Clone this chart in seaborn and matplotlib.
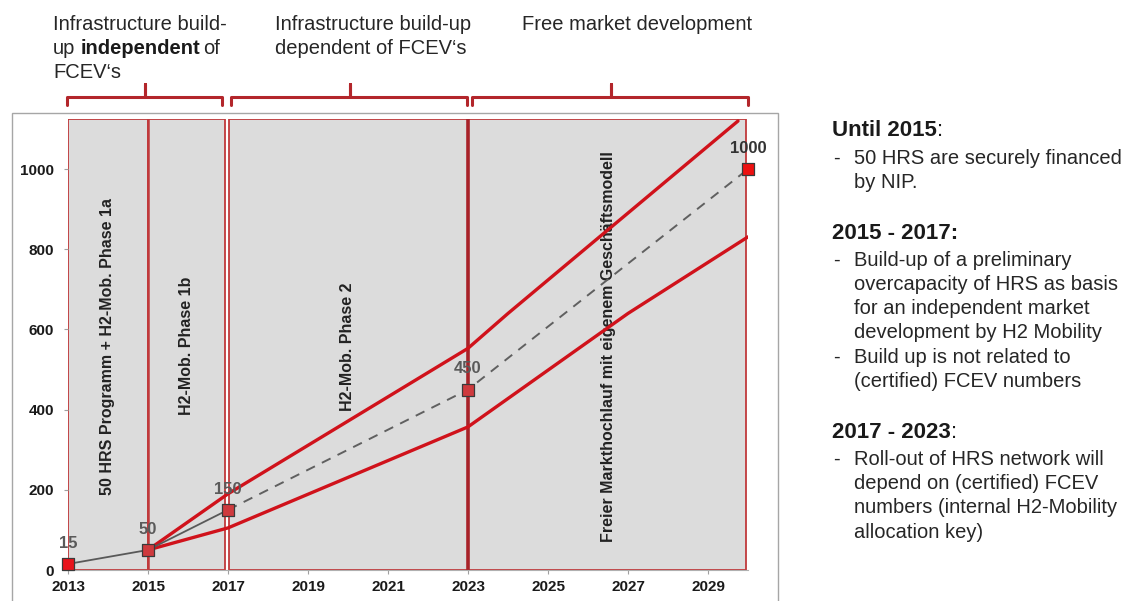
import matplotlib.pyplot as plt
import seaborn as sns
from matplotlib.patches import Rectangle
from matplotlib.lines import Line2D

# HRS milestones (number of stations)
milestone_years = [2013, 2015, 2017, 2023, 2030]
milestone_hrs = [15, 50, 150, 450, 1000]

# realised build-up (solid) and planned path (dashed)
actual_years = [2013, 2015, 2017]
actual_hrs = [15, 50, 150]
plan_years = [2017, 2023, 2030]
plan_hrs = [150, 450, 1000]

# corridor around the plan
upper_years = [2015, 2017, 2023, 2024, 2029.75]
upper_hrs = [50, 190, 553, 640, 1120]
lower_years = [2015, 2017, 2023, 2027, 2030]
lower_hrs = [50, 105, 357, 640, 831]

# phases (shaded boxes)
phase_start = [2013, 2015, 2017.03, 2023]
phase_end = [2015, 2016.93, 2023, 2029.95]
phase_labels = ['50 HRS Programm + H2-Mob. Phase 1a', 'H2-Mob. Phase 1b',
                'H2-Mob. Phase 2', 'Freier Markthochlauf mit eigenem Geschäftsmodell']

x_ticks = list(range(2013, 2030, 2))
y_ticks = [0, 200, 400, 600, 800, 1000]

# side notes
note_heads = ['Until 2015', '2015 - 2017:', '2017 - 2023']
note_items = [
    [['50 HRS are securely financed', 'by NIP.']],
    [['Build-up of a preliminary', 'overcapacity of HRS as basis',
      'for an independent market', 'development by H2 Mobility'],
     ['Build up is not related to', '(certified) FCEV numbers']],
    [['Roll-out of HRS network will', 'depend on (certified) FCEV',
      'numbers (internal H2-Mobility', 'allocation key)']],
]

sns.set_theme(style='white')
plt.rcParams['font.family'] = ['Liberation Sans', 'DejaVu Sans']

W, H = 1123, 601
fig = plt.figure(figsize=(W / 100, H / 100), dpi=100)
ax = fig.add_axes([68 / W, 1 - 570 / H, 680 / W, 451 / H])

RED = '#d0121b'
BOX_RED = '#c0393b'
DARK_RED = '#b3262b'

# phase boxes
for x0, x1 in zip(phase_start, phase_end):
    ax.axvspan(x0, x1, facecolor='#dcdcdc', edgecolor=BOX_RED, lw=1.3, zorder=0)
ax.axvline(2015, color=BOX_RED, lw=1.8, zorder=1)
ax.axvline(2023, color='#a82228', lw=2.6, zorder=1)

label_x = [(a + b) / 2 for a, b in zip(phase_start, phase_end)]
label_x[2] = 2020.0
label_x[3] = 2026.5
for x, lab in zip(label_x, phase_labels):
    ax.text(x, 558, lab, rotation=90, ha='center', va='center',
            fontsize=11.5, fontweight='bold', color='#222222', zorder=2)

# lines
sns.lineplot(x=upper_years, y=upper_hrs, ax=ax, color=RED, lw=2.4, zorder=3)
sns.lineplot(x=lower_years, y=lower_hrs, ax=ax, color=RED, lw=2.4, zorder=3)
sns.lineplot(x=actual_years, y=actual_hrs, ax=ax, color='#595959', lw=1.3, zorder=4)
sns.lineplot(x=plan_years, y=plan_hrs, ax=ax, color='#606060', lw=1.4,
             linestyle=(0, (5, 4)), zorder=4)

sns.scatterplot(x=milestone_years, y=milestone_hrs, ax=ax, marker='s', s=75,
                color='#e8131b', edgecolor='#3a3a3a', linewidth=0.9,
                clip_on=False, zorder=5)
ax.collections[-1].set_facecolor(['#e8131b', '#cf3a3e', '#cf3a3e', '#cf3a3e', '#ee1010'])

for i, (x, y) in enumerate(zip(milestone_years, milestone_hrs)):
    ax.annotate(str(y), (x, y), xytext=(0, 15), textcoords='offset points',
                ha='center', va='center', fontsize=12, fontweight='bold',
                color='#333333' if i == 4 else '#5a5a5a', zorder=6)

ax.set_xlim(2013, 2030)
ax.set_ylim(0, 1125)
ax.set_xticks(x_ticks)
ax.set_yticks(y_ticks)
ax.tick_params(axis='both', length=3, width=0.8, color='#a0a0a0',
               labelsize=11, labelcolor='#1a1a1a')
ax.tick_params(axis='x', pad=4)
ax.tick_params(axis='y', pad=7)
ax.xaxis.set_ticks_position('bottom')
ax.yaxis.set_ticks_position('left')
for lab in ax.get_xticklabels() + ax.get_yticklabels():
    lab.set_fontweight('bold')
for side in ['top', 'right', 'left']:
    ax.spines[side].set_visible(False)
ax.spines['bottom'].set_color('#b0b0b0')
ax.spines['bottom'].set_linewidth(0.8)
ax.set_xlabel('')
ax.set_ylabel('')
ax.grid(False)

# outer chart frame
fig.add_artist(Rectangle((12 / W, -0.1), 766 / W, 1 - 113 / H + 0.1,
                         transform=fig.transFigure, fill=False,
                         edgecolor='#a6a6a6', lw=1.0))

# brackets above the phases
trans = ax.get_xaxis_transform()
for x0, xm, x1 in [(2012.98, 2014.93, 2016.85), (2017.08, 2020.05, 2022.98),
                   (2023.1, 2026.58, 2030.0)]:
    ax.add_line(Line2D([x0, x0, xm, xm, xm, x1, x1],
                       [1.031, 1.049, 1.049, 1.078, 1.049, 1.049, 1.031],
                       transform=trans, color=DARK_RED, lw=2.2,
                       solid_joinstyle='round', solid_capstyle='round',
                       clip_on=False))

# headers
hkw = dict(fontsize=14.5, color='#262626', va='center', ha='left')
fig.text(53 / W, 1 - 25 / H, 'Infrastructure build-', **hkw)
t = fig.text(53 / W, 1 - 49 / H, 'up', **hkw)
t2 = ax.annotate('independent', xy=(1, 0), xycoords=t, xytext=(3.5, 0),
                 textcoords='offset points', va='bottom', ha='left',
                 fontsize=14.5, fontweight='bold', color='#1a1a1a')
ax.annotate('of', xy=(1, 0), xycoords=t2, xytext=(2.5, 0),
            textcoords='offset points', va='bottom', ha='left',
            fontsize=14.5, color='#262626')
fig.text(53 / W, 1 - 73 / H, 'FCEV\u2018s', **hkw)
fig.text(275 / W, 1 - 25 / H, 'Infrastructure build-up', **hkw)
fig.text(275 / W, 1 - 49 / H, 'dependent of FCEV\u2018s', **hkw)
fig.text(522 / W, 1 - 25 / H, 'Free market development', **hkw)

# side notes
y = 131
for head, items in zip(note_heads, note_items):
    ht = fig.text(832 / W, 1 - y / H, head, fontsize=16, fontweight='bold',
                  color='#1a1a1a', va='center', ha='left')
    if not head.endswith(':'):
        ax.annotate(':', xy=(1, 0), xycoords=ht, va='bottom', ha='left',
                    fontsize=16, color='#1a1a1a')
    y += 27
    for item in items:
        fig.text(833 / W, 1 - y / H, '-', fontsize=14.5, color='#262626',
                 va='center', ha='left')
        for line in item:
            fig.text(854 / W, 1 - y / H, line, fontsize=14.5, color='#262626',
                     va='center', ha='left')
            y += 24.2
    y += 27

fig.savefig('out.png', dpi=100)
